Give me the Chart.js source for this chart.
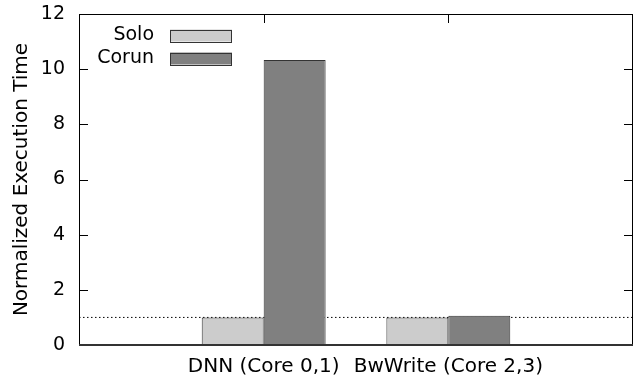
<!DOCTYPE html>
<html>
<head>
<meta charset="utf-8">
<script src="https://cdn.jsdelivr.net/npm/chart.js@4"></script>
<style>
html, body { margin: 0; padding: 0; background: #ffffff; }
#wrap { width: 638px; height: 381px; }
</style>
</head>
<body>
<div id="wrap"><canvas id="chart" width="638" height="381"></canvas></div>
<script>

/* DATA */

const categories = ["", "DNN (Core 0,1)", "BwWrite (Core 2,3)", ""];
const soloValues = [null, 1.0, 1.0, null];
const corunValues = [null, 10.33, 1.06, null];
const baselineValues = [1, 1, 1, 1];
const yTicks = [0, 2, 4, 6, 8, 10, 12];

const FONT = "'DejaVu Sans', sans-serif";

/* FRAME, TICS AND LEGEND (gnuplot style) */

const gnuplotFrame = {
id: "gnuplotFrame",

afterDraw(chart) {

const ctx = chart.ctx;
const a = chart.chartArea;
const y = chart.scales.y;
const x = chart.scales.x;

ctx.save();
ctx.strokeStyle = "#000000";
ctx.lineWidth = 1;

// tics, pointing inwards
ctx.beginPath();
yTicks.forEach(v => {
const py = Math.round(y.getPixelForValue(v)) + 0.5;
ctx.moveTo(a.left, py);
ctx.lineTo(a.left + 9, py);
ctx.moveTo(a.right, py);
ctx.lineTo(a.right - 9, py);
});
[1, 2].forEach(i => {
const px = Math.round(x.getPixelForValue(i)) + 0.5;
ctx.moveTo(px, a.top);
ctx.lineTo(px, a.top + 9);
});
ctx.stroke();

// border
ctx.strokeRect(Math.round(a.left) + 0.5, Math.round(a.top) + 0.5,
Math.round(a.right - a.left) - 1, Math.round(a.bottom - a.top));

ctx.lineWidth = 2;
ctx.strokeStyle = "#333333";
ctx.beginPath();
ctx.moveTo(a.left, Math.round(a.bottom));
ctx.lineTo(a.right, Math.round(a.bottom));
ctx.stroke();

// legend
const bars = chart.data.datasets.filter(d => d.type !== "line");
ctx.font = "19px " + FONT;
ctx.textAlign = "right";
ctx.textBaseline = "middle";
bars.forEach((d, i) => {
const cy = 35.5 + i * 23;
ctx.fillStyle = "#000000";
ctx.fillText(d.label, 154, cy);
ctx.fillStyle = d.backgroundColor;
ctx.fillRect(170, cy - 6, 62, 12);
ctx.lineWidth = 1;
ctx.strokeStyle = "#333333";
ctx.strokeRect(170.5, Math.round(cy - 6) + 0.5, 61, 12);
});

ctx.restore();

}
};

/* CHART */

const ctx = document.getElementById("chart");

new Chart(ctx, {

type: "bar",

data: {

labels: categories,

datasets: [
{
label: "Solo",
data: soloValues,
backgroundColor: "#cccccc",
borderColor: "#333333",
borderWidth: 1,
order: 1
},
{
label: "Corun",
data: corunValues,
backgroundColor: "#808080",
borderColor: "#333333",
borderWidth: 1,
order: 1
},
{
type: "line",
label: "baseline",
data: baselineValues,
borderColor: "#000000",
borderWidth: 1,
borderDash: [1.5, 2.5],
pointRadius: 0,
fill: false,
order: 2
}
]

},

options: {

responsive: false,
animation: false,
devicePixelRatio: 1,

layout: {
padding: { top: 14, right: 5, left: 0, bottom: 0 }
},

plugins: {
legend: { display: false },
tooltip: { enabled: false }
},

datasets: {
bar: {
categoryPercentage: 0.671,
barPercentage: 1.0
}
},

scales: {

x: {
offset: false,
grid: { display: false },
border: { display: false },
ticks: {
color: "#000000",
font: { family: FONT, size: 20 },
padding: 2,
maxRotation: 0,
autoSkip: false
},
afterFit(scale) {
scale.height = 36;
scale.paddingLeft = 0;
scale.paddingRight = 0;
}
},

y: {
min: 0,
max: 12,
grid: { display: false, drawTicks: false },
border: { display: false },
afterBuildTicks(scale) {
scale.ticks = yTicks.map(v => ({ value: v }));
},
ticks: {
color: "#000000",
font: { family: FONT, size: 19 },
padding: 14
},
title: {
display: true,
text: "Normalized Execution Time",
color: "#000000",
font: { family: FONT, size: 20 },
padding: { top: 10, bottom: 0 }
},
afterFit(scale) {
scale.width = 79;
scale.paddingTop = 0;
scale.paddingBottom = 0;
}
}

}

},

plugins: [gnuplotFrame]

});

</script>
</body>
</html>
